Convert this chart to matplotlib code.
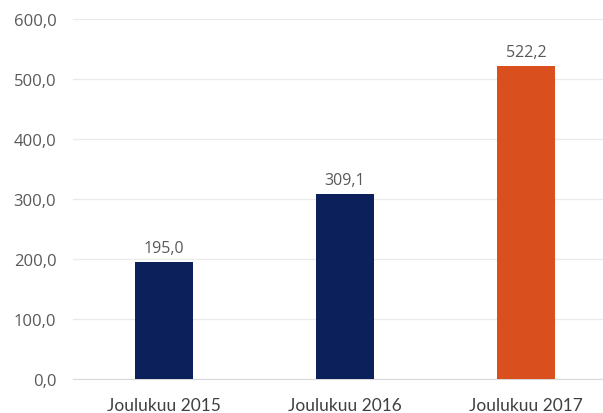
import matplotlib.pyplot as plt

categories = ["Joulukuu 2015", "Joulukuu 2016", "Joulukuu 2017"]
values = [195.0, 309.1, 522.2]
colors = ["#0c215c", "#0c215c", "#d9501e"]
yticks = [0, 100, 200, 300, 400, 500, 600]

fig = plt.figure(figsize=(6.03, 4.14), dpi=100)
ax = fig.add_axes([73 / 603, 34 / 414, 530 / 603, 360 / 414])

x = range(len(categories))
ax.bar(x, values, width=0.32, color=colors, zorder=3)

for i, v in enumerate(values):
    ax.text(i, v + 10, f"{v:.1f}".replace(".", ","), ha="center", va="bottom",
            fontsize=11.5, color="#595959", family="Open Sans")

ax.set_ylim(0, 600)
ax.set_xlim(-0.5, 2.425)
ax.set_yticks(yticks)
ax.set_yticklabels([f"{t:.1f}".replace(".", ",") for t in yticks],
                   fontsize=12, color="#595959", family="Open Sans")
ax.set_xticks(list(x))
ax.set_xticklabels(categories, fontsize=12.5, color="#404040", family="Lato")
ax.tick_params(length=0, pad=12)
ax.tick_params(axis="x", pad=13)
ax.grid(axis="y", color="#ebebeb", linewidth=1, zorder=0)
for s in ["top", "right", "left"]:
    ax.spines[s].set_visible(False)
ax.spines["bottom"].set_color("#d9d9d9")

plt.savefig("out.png", dpi=100)
